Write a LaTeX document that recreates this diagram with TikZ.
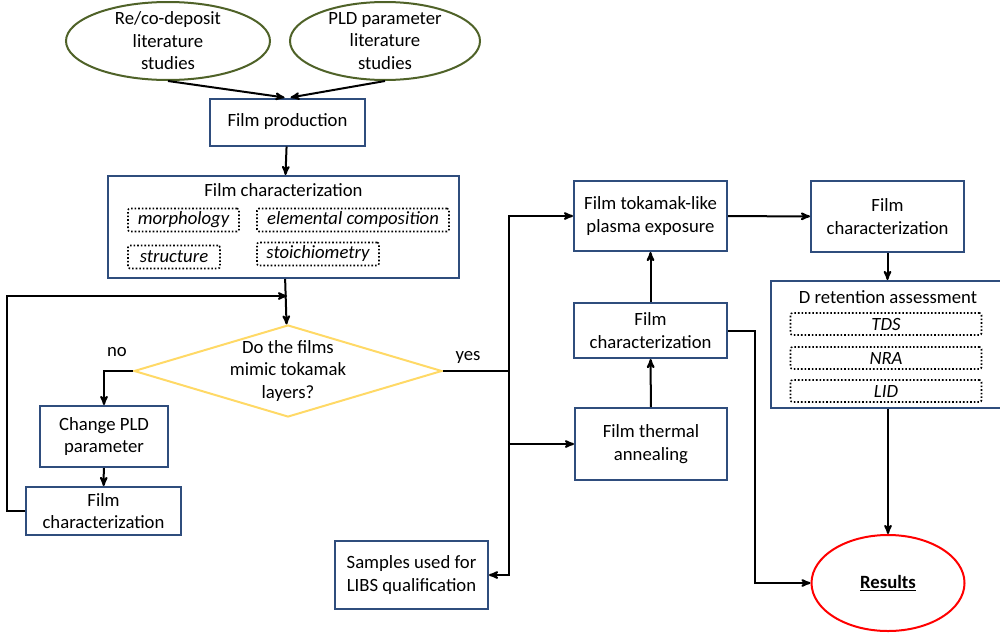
\documentclass[tikz,border=0pt]{standalone}
\usepackage{fontspec}
\setmainfont{Carlito}
\usetikzlibrary{arrows,shapes.geometric}

\definecolor{boxblue}{RGB}{47,77,125}
\definecolor{litgreen}{RGB}{79,98,40}
\definecolor{askyellow}{RGB}{255,217,102}
\definecolor{resred}{RGB}{255,0,0}

\begin{document}
\begin{tikzpicture}[->,>=stealth',x=1pt,y=-1pt,line width=2pt,font=\fontsize{18.7}{22.5}\selectfont]
  \tikzstyle{every edge}=[draw,line width=2pt]
  \tikzstyle{lit}=[ellipse,draw=litgreen,line width=2pt,minimum height=78pt,inner sep=0pt]
  \tikzstyle{box}=[rectangle,draw=boxblue,line width=2pt,fill=white,inner sep=0pt,align=center]
  \tikzstyle{tag}=[rectangle,draw,dotted,line width=1.6pt,rounded corners=2pt,inner sep=0pt,minimum height=23pt,font=\fontsize{18.7}{22.5}\selectfont\itshape]
  \tikzstyle{txt}=[inner sep=0pt,align=center]

  \useasboundingbox (0,0) rectangle (1000,632);

  % literature
  \node[lit,minimum width=204pt]          (reco)  at (168,41)    {};
  \node[txt]                              (recot) at (reco)      {Re/co-deposit\\literature\\studies};
  \node[lit,minimum width=190pt]          (pld)   at (385,41)    {};
  \node[txt]                              (pldt)  at (pld)       {PLD parameter\\literature\\studies};

  % production and first characterization
  \node[box,minimum width=155pt,minimum height=47pt] (prod) at (287.5,122) {Film production};
  \node[box,minimum width=351pt,minimum height=102pt] (fc1) at (283.5,227) {};
  \node[txt]                              (fc1t)  at (283.5,190) {Film characterization};
  \node[tag,minimum width=111pt]          (morph) at (183.5,220) {morphology};
  \node[tag,minimum width=192pt]          (elem)  at (353,220)   {elemental composition};
  \node[tag,minimum width=92pt]           (struc) at (174,257)   {structure};
  \node[tag,minimum width=122pt]          (stoi)  at (318,254)   {stoichiometry};

  % decision
  \node[diamond,draw=askyellow,line width=2pt,minimum width=308pt,minimum height=92pt,inner sep=0pt] (ask) at (288,371) {};
  \node[txt]                              (askt)  at (ask)       {Do the films\\mimic tokamak\\layers?};
  \node[txt]                              (no)    at (117,352)   {no};
  \node[txt]                              (yes)   at (468,357)   {yes};

  % no branch
  \node[box,minimum width=128pt,minimum height=61pt] (chg) at (104,436.5) {Change PLD\\parameter};
  \node[box,minimum width=155pt,minimum height=48pt] (fc2) at (103.5,511) {Film\\characterization};

  % yes branch
  \node[box,minimum width=153pt,minimum height=70pt] (plasma)  at (650.5,216)   {Film tokamak-like\\plasma exposure};
  \node[box,minimum width=153pt,minimum height=55pt] (fc3)     at (650.5,330.5) {Film\\characterization};
  \node[box,minimum width=152pt,minimum height=72pt] (anneal)  at (651,444)     {Film thermal\\annealing};
  \node[box,minimum width=153pt,minimum height=68pt] (samples) at (411.5,575)   {Samples used for\\LIBS qualification};
  \node[box,minimum width=153pt,minimum height=71pt] (fc4)     at (887.5,216.5) {Film\\characterization};

  % D retention
  \node[box,minimum width=234pt,minimum height=127pt] (dret) at (888,344.5) {};
  \node[txt]                              (drett) at (888,297)   {D retention assessment};
  \node[tag,minimum width=191pt,minimum height=22pt] (tds) at (886,324) {TDS};
  \node[tag,minimum width=191pt,minimum height=22pt] (nra) at (886,358) {NRA};
  \node[tag,minimum width=191pt,minimum height=22pt] (lid) at (886,391) {LID};

  \node[ellipse,draw=resred,line width=2pt,minimum width=153pt,minimum height=96pt,inner sep=0pt] (res) at (888,583) {\underline{\textbf{Results}}};

  \coordinate (join)  at (287,296);
  \coordinate (split) at (509,371);

  \path (reco.south) edge ([xshift=-3pt]prod.north)
        (pld.south)  edge ([xshift=3pt]prod.north)
        (prod)       edge (fc1)
        (fc1)        edge (ask)
        (chg)        edge (fc2)
        (anneal)     edge (fc3)
        (fc3)        edge (plasma)
        (plasma)     edge (fc4)
        (fc4)        edge (fc4.south |- dret.north)
        (res.north |- dret.south) edge (res.north);

  \draw (fc2.west) -- ++(-18,0) |- (join);
  \draw (ask.west) -| (chg.north);
  \draw[-] (ask.east) -- (split);
  \draw (split) |- (plasma.west);
  \draw (split) |- (anneal.west);
  \draw (split) |- (samples.east);
  \draw (fc3.east) -- ++(27,0) |- (res.west);
\end{tikzpicture}
\end{document}
